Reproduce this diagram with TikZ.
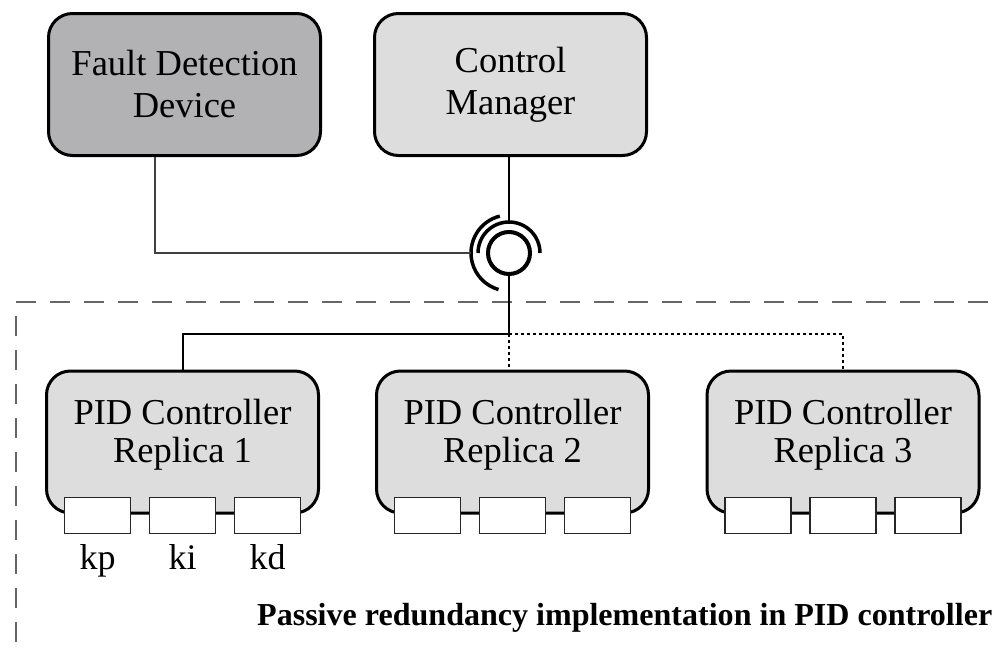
\documentclass[tikz,border=0pt]{standalone}
\usepackage{fontspec}
\setmainfont{Liberation Serif}
\usepackage{graphicx}
\definecolor{fddfill}{RGB}{178,177,180}
\definecolor{boxfill}{RGB}{221,221,221}
\begin{document}
\begin{tikzpicture}[x=1pt,y=1pt,
 box/.style={draw=black, line width=3pt, rounded corners=24pt, minimum width=272pt, minimum height=142pt, align=center, font=\fontsize{36.5}{42}\selectfont, inner sep=0pt},
 pidtext/.style={align=center, font=\fontsize{36.5}{38}\selectfont, inner sep=0pt},
 port/.style={draw=black!85, line width=1.3pt, fill=white, minimum width=66pt, minimum height=36pt, inner sep=0pt},
 lbl/.style={font=\fontsize{36}{40}\selectfont, inner sep=0pt, anchor=base},
 conn/.style={line width=2pt},
 dotconn/.style={line width=2pt, dash pattern=on 3pt off 3pt},
 frame/.style={line width=1.8pt, draw=black!60, dash pattern=on 20pt off 14pt},
 sockline/.style={line width=3.5pt}
]
\useasboundingbox (0,0) rectangle (999,-648);

% boundary of the PID controller area
\draw[frame] (16,-302) -- (999,-302);
\draw[frame, dash phase=20pt] (16,-302) -- (16,-648);

% top boxes
\node[box, fill=fddfill] (fdd) at (184.5,-84.5) {Fault Detection\\Device};
\node[box, fill=boxfill] (cm) at (510.5,-84.5) {Control\\Manager};

% socket symbol
\node[draw, circle, line width=4pt, minimum size=42pt, inner sep=0pt, fill=white] (sock) at (509,-253) {};
\draw[sockline] ([shift={(0:31pt)}]sock.center) arc[start angle=0, end angle=180, radius=31pt];
\draw[sockline] ([shift={(104:38pt)}]sock.center) arc[start angle=104, end angle=254, radius=38pt];
\coordinate (arcTop) at ([yshift=31pt]sock.center);
\coordinate (arcLeft) at ([xshift=-38pt]sock.center);

\draw[conn] (arcTop |- cm.south) -- (arcTop);
\draw[conn, draw=black!75] ([xshift=-29.5pt]fdd.south) |- (arcLeft);

% replicas
\node[box, fill=boxfill] (r1) at (182.5,-442) {};
\node[box, fill=boxfill] (r2) at (512.5,-442) {};
\node[box, fill=boxfill] (r3) at (843,-442) {};
\node[pidtext] (r1t) at (182.5,-435) {PID Controller\\Replica 1};
\node[pidtext] (r2t) at (512.5,-435) {PID Controller\\Replica 2};
\node[pidtext] (r3t) at (843,-435) {PID Controller\\Replica 3};

\node[port] (r1p1) at ([xshift=-85pt,yshift=-1pt]r1.south) {};
\node[port] (r1p2) at ([xshift=0pt,yshift=-1pt]r1.south) {};
\node[port] (r1p3) at ([xshift=85pt,yshift=-1pt]r1.south) {};
\node[port] (r2p1) at ([xshift=-85pt,yshift=-1pt]r2.south) {};
\node[port] (r2p2) at ([xshift=0pt,yshift=-1pt]r2.south) {};
\node[port] (r2p3) at ([xshift=85pt,yshift=-1pt]r2.south) {};
\node[port] (r3p1) at ([xshift=-85pt,yshift=-1pt]r3.south) {};
\node[port] (r3p2) at ([xshift=0pt,yshift=-1pt]r3.south) {};
\node[port] (r3p3) at ([xshift=85pt,yshift=-1pt]r3.south) {};

\node[lbl] (kp) at ([yshift=-54pt]r1p1.center) {kp};
\node[lbl] (ki) at ([yshift=-54pt]r1p2.center) {ki};
\node[lbl] (kd) at ([yshift=-54pt]r1p3.center) {kd};

% connectors to the replicas
\coordinate (junc) at (509,-334);
\draw[conn] (sock.south) -- (junc) -| (r1.north);
\draw[dotconn] (junc) -| (r3.north);
\draw[dotconn] (junc) -- (junc |- r2.north);

% caption
\node[anchor=base west, inner sep=0pt] (cap) at (257,-625) {\resizebox{735pt}{\height}{\fontsize{32}{38}\selectfont\bfseries Passive redundancy implementation in PID controller}};
\end{tikzpicture}
\end{document}
